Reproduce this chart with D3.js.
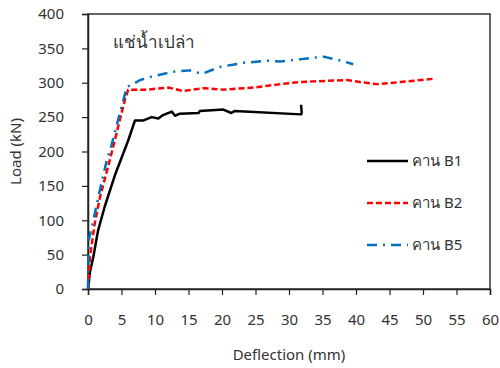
<!DOCTYPE html>
<html>
<head>
<meta charset="utf-8">
<script src="https://cdn.jsdelivr.net/npm/d3@7"></script>
<style>
  body { margin: 0; background: #fff; }
  svg { font-family: Tahoma, "Noto Sans", "DejaVu Sans", sans-serif; }
</style>
</head>
<body>
<svg id="chart" width="500" height="368"></svg>
<script>
// B1 (solid black)
const b1Defl = [0, 0.3, 0.8, 1.5, 2.5, 4.0, 6.0, 7.0, 8.2, 9.5, 10.5, 11.2, 12.5, 13.0, 13.7, 16.5, 16.7, 20.2, 21.4, 21.9, 31.8, 31.9, 31.8];
const b1Load = [0, 25, 47, 85, 120, 165, 216, 245, 245, 250, 248, 253, 258, 252, 255, 256, 259, 261, 256, 259, 254, 256, 268];
// B2 (red dashed)
const b2Defl = [0, 0.3, 1.0, 1.8, 3.0, 4.0, 4.5, 5.5, 6.0, 8.8, 12.0, 14.2, 17.2, 20.2, 24.7, 28.7, 31.6, 33.6, 38.6, 40.6, 43.1, 46.6, 51.8];
const b2Load = [0, 47, 95, 134, 178, 216, 236, 275, 290, 290, 293, 288, 292, 290, 293, 298, 301, 302, 304, 301, 298, 301, 306];
// B5 (blue dash-dot)
const b5Defl = [0, 0.1, 0.8, 2.0, 2.8, 3.5, 5.0, 5.8, 6.5, 7.8, 9.5, 12.7, 15.2, 17.0, 19.7, 23.2, 26.7, 28.7, 31.6, 35.1, 37.4, 39.6];
const b5Load = [0, 71, 100, 154, 187, 209, 265, 294, 297, 304, 309, 316, 318, 313, 323, 329, 332, 331, 334, 338, 333, 327];

const seriesNames = ['คาน B1', 'คาน B2', 'คาน B5'];
const xTicks = d3.range(0, 61, 5);
const yTicks = d3.range(0, 401, 50);

const series = [
  { name: seriesNames[0], x: b1Defl, y: b1Load, color: '#000000', dash: null },
  { name: seriesNames[1], x: b2Defl, y: b2Load, color: '#ff0000', dash: '6,3' },
  { name: seriesNames[2], x: b5Defl, y: b5Load, color: '#0070c0', dash: '10,6,2,6' }
];

const svg = d3.select('#chart');
const margin = { left: 88, right: 10, top: 14, bottom: 79 };
const width = 500 - margin.left - margin.right;
const height = 368 - margin.top - margin.bottom;

const xScale = d3.scaleLinear().domain([0, 60]).range([0, width]);
const yScale = d3.scaleLinear().domain([0, 400]).range([height, 0]);

const g = svg.append('g').attr('transform', `translate(${margin.left},${margin.top})`);

// frame
g.append('rect')
  .attr('width', width)
  .attr('height', height)
  .attr('fill', 'none')
  .attr('stroke', '#333')
  .attr('stroke-width', 1.5);

const xAxis = g.append('g')
  .attr('transform', `translate(0,${height})`)
  .call(d3.axisBottom(xScale).tickValues(xTicks).tickSize(6).tickPadding(19));
const yAxis = g.append('g')
  .call(d3.axisLeft(yScale).tickValues(yTicks).tickSize(6).tickPadding(18));

[xAxis, yAxis].forEach((ax) => {
  ax.select('.domain').attr('stroke', '#222').attr('stroke-width', 1.5);
  ax.selectAll('.tick line').attr('stroke', '#222').attr('stroke-width', 1.2);
  ax.selectAll('.tick text')
    .attr('font-size', 15)
    .attr('fill', '#333')
    .style('font-family', 'Tahoma, "Noto Sans", "DejaVu Sans", sans-serif');
});

const line = d3.line()
  .x((d) => xScale(d[0]))
  .y((d) => yScale(d[1]));

series.forEach((s) => {
  g.append('path')
    .datum(s.x.map((v, i) => [v, s.y[i]]))
    .attr('fill', 'none')
    .attr('stroke', s.color)
    .attr('stroke-width', 2.5)
    .attr('stroke-dasharray', s.dash)
    .attr('stroke-linejoin', 'round')
    .attr('d', line);
});

// legend
const legend = g.append('g').attr('transform', 'translate(279,147)');
series.forEach((s, i) => {
  const row = legend.append('g').attr('transform', `translate(0,${i * 42})`);
  row.append('line')
    .attr('x1', 0).attr('x2', 41)
    .attr('y1', 0).attr('y2', 0)
    .attr('stroke', s.color)
    .attr('stroke-width', 2.5)
    .attr('stroke-dasharray', s.dash);
  row.append('text')
    .attr('x', 45)
    .attr('y', 0)
    .attr('dy', '0.3em')
    .attr('font-size', 15)
    .attr('fill', '#333')
    .text(s.name);
});

// annotation
g.append('text')
  .attr('x', 25)
  .attr('y', 34)
  .attr('font-size', 17)
  .attr('fill', '#333')
  .text('แช่น้ำเปล่า');

// axis titles
svg.append('text')
  .attr('x', margin.left + width / 2)
  .attr('y', 360)
  .attr('text-anchor', 'middle')
  .attr('font-size', 15)
  .attr('fill', '#333')
  .text('Deflection (mm)');

svg.append('text')
  .attr('transform', `translate(21,${margin.top + height / 2}) rotate(-90)`)
  .attr('text-anchor', 'middle')
  .attr('font-size', 15)
  .attr('fill', '#333')
  .text('Load (kN)');
</script>
</body>
</html>
